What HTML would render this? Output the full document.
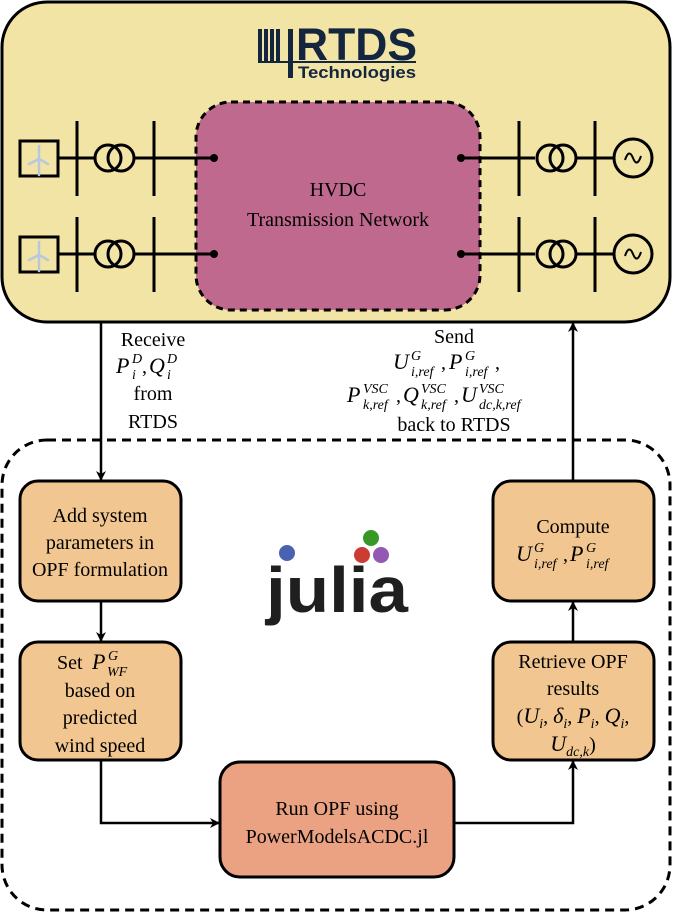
<!DOCTYPE html>
<html><head><meta charset="utf-8"><style>
html,body{margin:0;padding:0;background:#fff}
svg{display:block}
text{font-family:"Liberation Serif",serif;font-size:20px;fill:#000}
.i{font-style:italic;font-size:22px}
.s{font-size:14px;font-style:italic}
</style></head><body>
<svg width="673" height="913" viewBox="0 0 673 913" xmlns="http://www.w3.org/2000/svg">
<defs><marker id="a" markerWidth="10" markerHeight="10" refX="9" refY="5" orient="auto" markerUnits="userSpaceOnUse"><path d="M0,0 L10,5 L0,10 L3,5 z" fill="#000"/></marker></defs>
<rect x="2" y="2" width="668" height="320" rx="45" fill="#f2e4a5" stroke="#000" stroke-width="3"/>
<rect x="196" y="102" width="284" height="208" rx="35" fill="#c0698e" stroke="#000" stroke-width="3" stroke-dasharray="7,5"/>
<text x="338" y="196" text-anchor="middle">HVDC</text>
<text x="338" y="226" text-anchor="middle">Transmission Network</text>
<g fill="#13253f">
<rect x="258" y="29" width="4" height="34"/><rect x="264" y="29" width="4" height="34"/><rect x="270" y="29" width="4" height="34"/><rect x="276" y="29" width="4" height="34"/>
<rect x="288" y="29" width="5" height="49"/><rect x="258" y="61" width="158" height="2"/>
</g>
<text x="296" y="60" style="font-family:'Liberation Sans',sans-serif;font-weight:bold;font-size:45px;fill:#13253f" textLength="121" lengthAdjust="spacingAndGlyphs">RTDS</text>
<text x="298" y="78" style="font-family:'Liberation Sans',sans-serif;font-weight:bold;font-size:17px;fill:#13253f" textLength="118" lengthAdjust="spacingAndGlyphs">Technologies</text>
<g stroke="#000" stroke-width="3" fill="none">
<g id="row">
<rect x="20" y="141" width="38" height="35" fill="#f2e4a5"/>
<line x1="58" y1="158" x2="96" y2="158"/>
<line x1="77" y1="121" x2="77" y2="196"/>
<circle cx="108" cy="158" r="13"/><circle cx="121" cy="158" r="13"/>
<line x1="134" y1="158" x2="214" y2="158"/>
<line x1="154" y1="121" x2="154" y2="196"/>
<line x1="461" y1="158" x2="535" y2="158"/>
<line x1="519" y1="121" x2="519" y2="196"/>
<circle cx="550" cy="158" r="13"/><circle cx="563" cy="158" r="13"/>
<line x1="576" y1="158" x2="614" y2="158"/>
<line x1="595" y1="121" x2="595" y2="196"/>
<circle cx="633" cy="158" r="19"/>
<path d="M625,160 q4,-12 8,-2 q4,10 8,-2" stroke-width="2"/>
</g>
<use href="#row" y="96"/>
</g>
<g fill="#000"><circle cx="214" cy="158" r="4"/><circle cx="214" cy="254" r="4"/><circle cx="461" cy="158" r="4"/><circle cx="461" cy="254" r="4"/></g>
<g stroke="#b8c8dc" stroke-width="2.5" stroke-linecap="round">
<line x1="39" y1="159" x2="39" y2="175"/><line x1="39" y1="159" x2="39" y2="146"/><line x1="39" y1="159" x2="29" y2="164"/><line x1="39" y1="159" x2="48" y2="164"/>
<line x1="39" y1="255" x2="39" y2="271"/><line x1="39" y1="255" x2="39" y2="242"/><line x1="39" y1="255" x2="29" y2="260"/><line x1="39" y1="255" x2="48" y2="260"/>
</g>
<rect x="2" y="440" width="668" height="470" rx="45" fill="none" stroke="#000" stroke-width="3" stroke-dasharray="9,6"/>
<g stroke="#000" stroke-width="2.5" fill="none" marker-end="url(#a)">
<line x1="101" y1="322" x2="101" y2="480"/>
<line x1="101" y1="601" x2="101" y2="641"/>
<polyline points="101,760 101,823 219,823"/>
<polyline points="454,823 573,823 573,761"/>
<line x1="573" y1="642" x2="573" y2="602"/>
<line x1="573" y1="481" x2="573" y2="323"/>
</g>
<!-- Receive -->
<text x="153" y="346" text-anchor="middle">Receive</text>
<text x="116" y="373" class="i">P</text><text x="132" y="363" class="s">D</text><text x="132" y="379" class="s">i</text><text x="142" y="373">,</text>
<text x="149" y="373" class="i">Q</text><text x="167" y="363" class="s">D</text><text x="167" y="379" class="s">i</text>
<text x="153" y="400" text-anchor="middle">from</text>
<text x="153" y="428" text-anchor="middle">RTDS</text>
<!-- Send -->
<text x="454" y="343" text-anchor="middle">Send</text>
<text x="393" y="369" class="i">U</text><text x="411" y="360" class="s">G</text><text x="411" y="376" class="s">i,ref</text><text x="441" y="369">,</text>
<text x="449" y="369" class="i">P</text><text x="465" y="360" class="s">G</text><text x="465" y="376" class="s">i,ref</text><text x="495" y="369">,</text>
<text x="347" y="402" class="i">P</text><text x="363" y="393" class="s">VSC</text><text x="363" y="409" class="s">k,ref</text><text x="396" y="402">,</text>
<text x="403" y="402" class="i">Q</text><text x="421" y="393" class="s">VSC</text><text x="421" y="409" class="s">k,ref</text><text x="454" y="402">,</text>
<text x="461" y="402" class="i">U</text><text x="479" y="393" class="s">VSC</text><text x="479" y="409" class="s">dc,k,ref</text>
<text x="454" y="431" text-anchor="middle">back to RTDS</text>
<g stroke="#000" stroke-width="3">
<rect x="20" y="481" width="161" height="120" rx="18" fill="#f2c690"/>
<rect x="20" y="642" width="161" height="118" rx="18" fill="#f2c690"/>
<rect x="493" y="481" width="161" height="120" rx="18" fill="#f2c690"/>
<rect x="493" y="642" width="161" height="118" rx="18" fill="#f2c690"/>
<rect x="220" y="762" width="234" height="115" rx="20" fill="#eaa283"/>
</g>
<text x="100" y="522" text-anchor="middle">Add system</text>
<text x="100" y="549" text-anchor="middle">parameters in</text>
<text x="100" y="576" text-anchor="middle">OPF formulation</text>
<text x="57" y="669">Set</text><text x="92" y="669" class="i">P</text><text x="108" y="660" class="s">G</text><text x="107" y="676" class="s">WF</text>
<text x="100" y="697" text-anchor="middle">based on</text>
<text x="100" y="724" text-anchor="middle">predicted</text>
<text x="100" y="752" text-anchor="middle">wind speed</text>
<text x="573" y="533" text-anchor="middle">Compute</text>
<text x="516" y="561" class="i">U</text><text x="534" y="552" class="s">G</text><text x="534" y="568" class="s">i,ref</text><text x="563" y="561">,</text>
<text x="570" y="561" class="i">P</text><text x="586" y="552" class="s">G</text><text x="586" y="568" class="s">i,ref</text>
<text x="573" y="668" text-anchor="middle">Retrieve OPF</text>
<text x="573" y="695" text-anchor="middle">results</text>
<text x="573" y="723" text-anchor="middle">(<tspan class="i">U</tspan><tspan class="s" dy="5">i</tspan><tspan dy="-5">, </tspan><tspan class="i">δ</tspan><tspan class="s" dy="5">i</tspan><tspan dy="-5">, </tspan><tspan class="i">P</tspan><tspan class="s" dy="5">i</tspan><tspan dy="-5">, </tspan><tspan class="i">Q</tspan><tspan class="s" dy="5">i</tspan><tspan dy="-5">,</tspan></text>
<text x="573" y="751" text-anchor="middle"><tspan class="i">U</tspan><tspan class="s" dy="5">dc,k</tspan><tspan dy="-5">)</tspan></text>
<text x="337" y="815" text-anchor="middle">Run OPF using</text>
<text x="337" y="843" text-anchor="middle">PowerModelsACDC.jl</text>
<text x="266" y="612" style="font-family:'Liberation Sans',sans-serif;font-weight:bold;font-size:64px;fill:#1f1f1f" textLength="142" lengthAdjust="spacingAndGlyphs">julia</text>
<circle cx="287" cy="553" r="8" fill="#4a63b0"/>
<circle cx="371" cy="538" r="8" fill="#389826"/>
<circle cx="362" cy="555" r="8" fill="#cb3c33"/>
<circle cx="381" cy="555" r="8" fill="#9558b2"/>
</svg>
</body></html>
